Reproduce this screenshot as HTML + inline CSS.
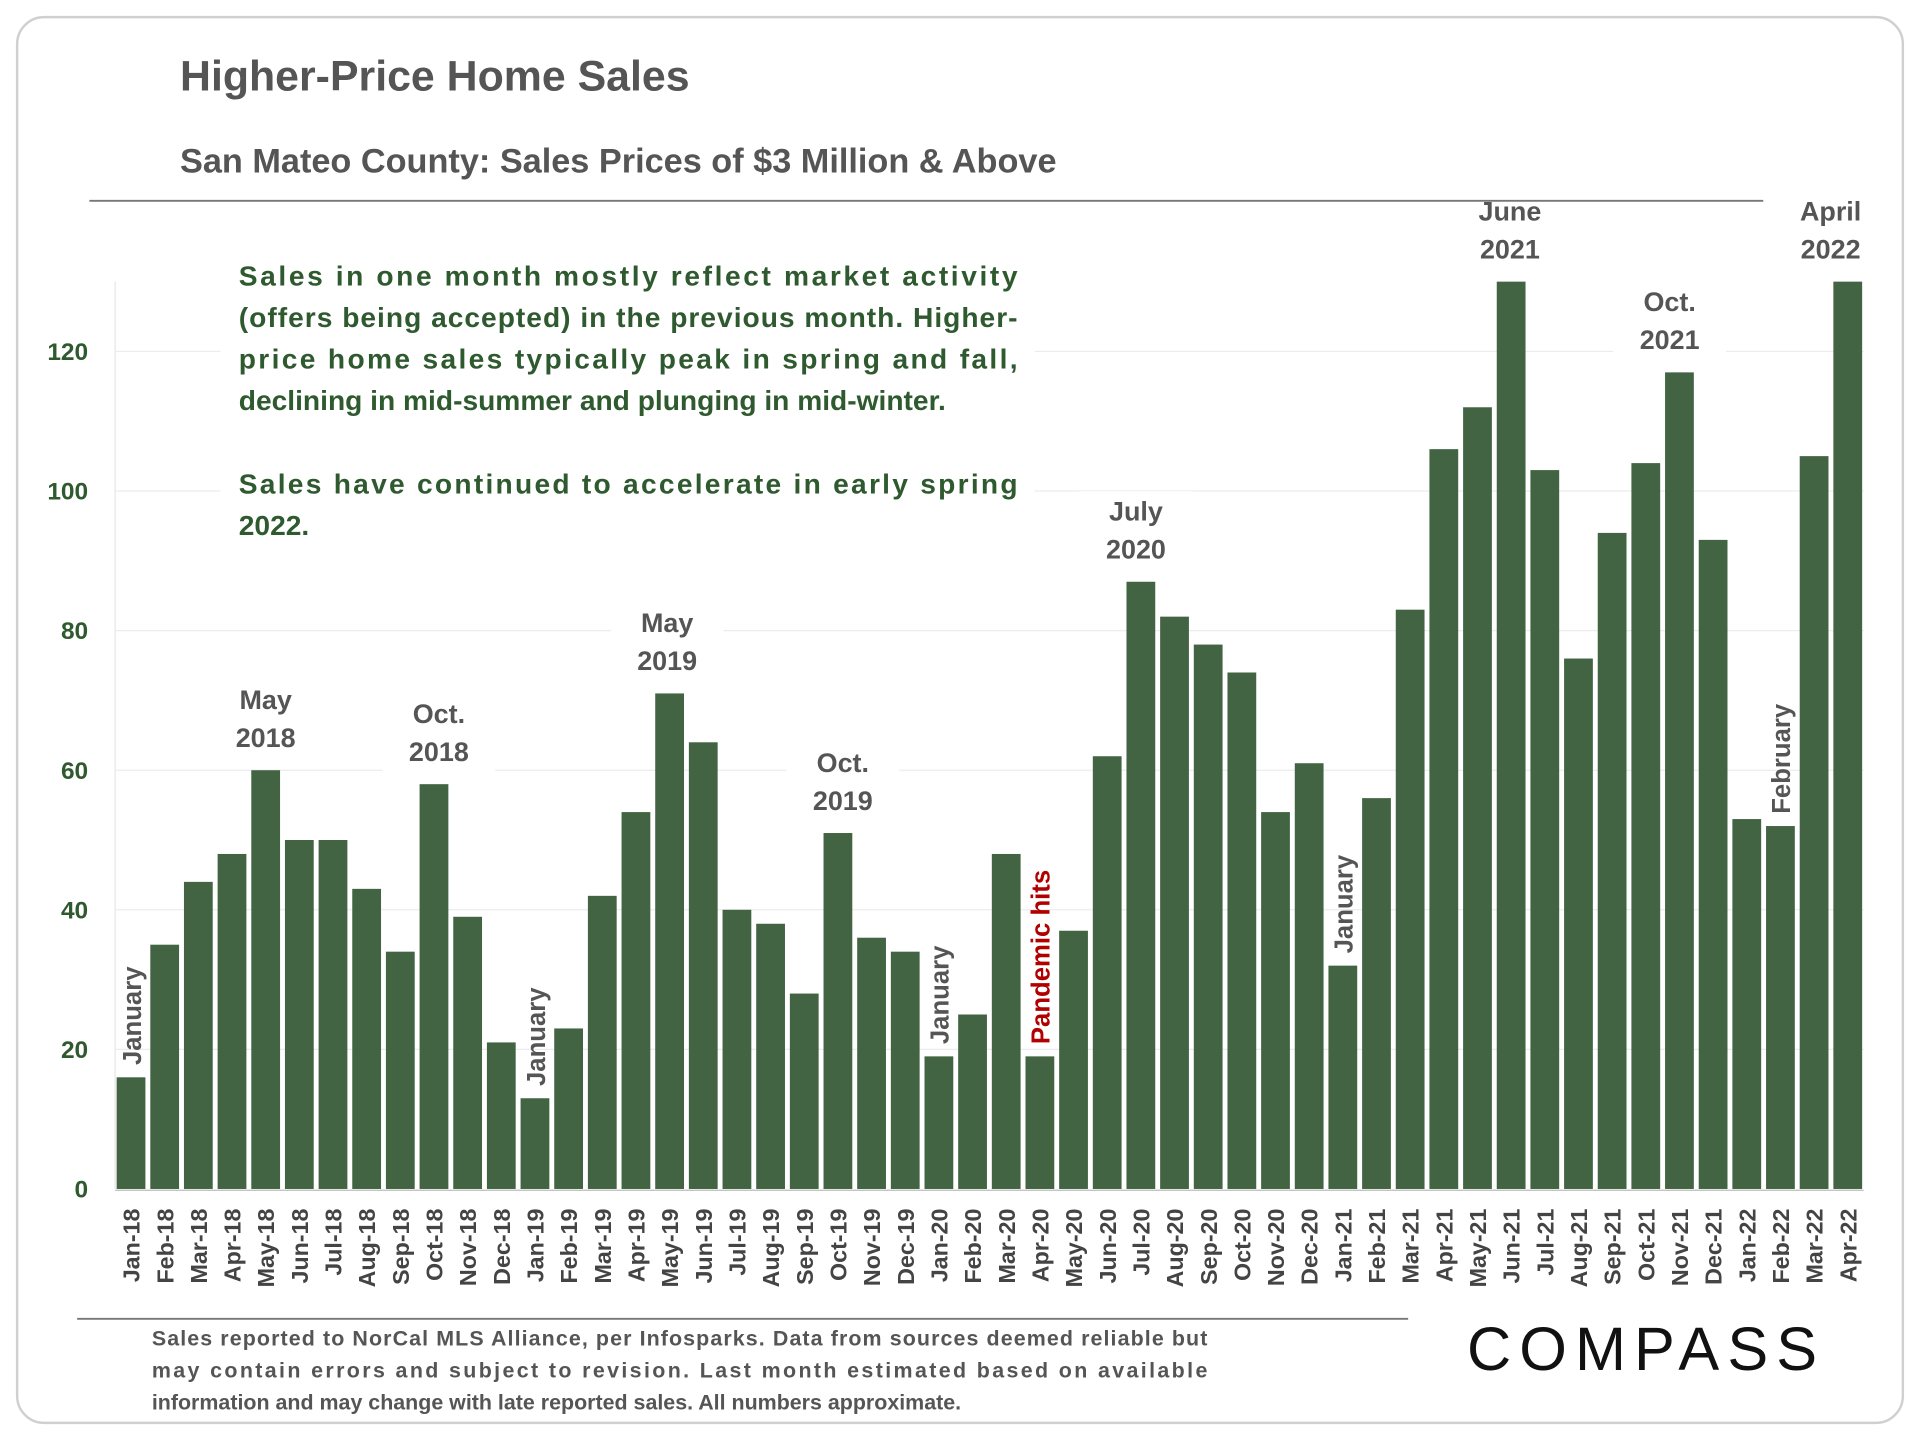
<!DOCTYPE html>
<html><head><meta charset="utf-8"><style>
html,body{margin:0;padding:0;background:#fff}
svg{display:block}
text{font-family:"Liberation Sans",sans-serif}
</style></head><body>
<svg id="chart" width="1920" height="1440" viewBox="0 0 1568 1176" xmlns="http://www.w3.org/2000/svg">
<rect x="14" y="14" width="1540" height="1148" rx="22" fill="#fff" stroke="#d0d0d0" stroke-width="2"/>
<text x="147" y="74" font-size="35" font-weight="bold" fill="#555">Higher-Price Home Sales</text>
<text x="147" y="141" font-size="28" font-weight="bold" fill="#555">San Mateo County: Sales Prices of $3 Million &amp; Above</text>
<g id="grid"></g>
<rect x="180" y="205" width="665" height="245" fill="#fff"/>
<g id="bars"></g>
<g id="xlabels"></g>
<g id="ylabels"></g>
<g font-size="23" font-weight="bold" fill="#2f5a2f">
<text x="195" y="233" textLength="636" lengthAdjust="spacing">Sales in one month mostly reflect market activity</text>
<text x="195" y="267" textLength="636" lengthAdjust="spacing">(offers being accepted) in the previous month. Higher-</text>
<text x="195" y="301" textLength="636" lengthAdjust="spacing">price home sales typically peak in spring and fall,</text>
<text x="195" y="335">declining in mid-summer and plunging in mid-winter.</text>
<text x="195" y="403" textLength="636" lengthAdjust="spacing">Sales have continued to accelerate in early spring</text>
<text x="195" y="437">2022.</text>
</g>
<g id="notes" font-size="22" font-weight="bold" fill="#555" text-anchor="middle"></g>
<line x1="73" y1="164" x2="1440" y2="164" stroke="#777" stroke-width="1.5"/>
<line x1="63" y1="1077" x2="1150" y2="1077" stroke="#777" stroke-width="1.5"/>
<g font-size="17.5" font-weight="bold" fill="#555">
<text x="124" y="1099" textLength="862" lengthAdjust="spacing">Sales reported to NorCal MLS Alliance, per Infosparks. Data from sources deemed reliable but</text>
<text x="124" y="1125" textLength="862" lengthAdjust="spacing">may contain errors and subject to revision. Last month estimated based on available</text>
<text x="124" y="1151">information and may change with late reported sales. All numbers approximate.</text>
</g>
<text x="1198" y="1119" font-size="50" fill="#111" textLength="286" lengthAdjust="spacing">COMPASS</text>
</svg>
<script>
const categories=["Jan-18","Feb-18","Mar-18","Apr-18","May-18","Jun-18","Jul-18","Aug-18","Sep-18","Oct-18","Nov-18","Dec-18","Jan-19","Feb-19","Mar-19","Apr-19","May-19","Jun-19","Jul-19","Aug-19","Sep-19","Oct-19","Nov-19","Dec-19","Jan-20","Feb-20","Mar-20","Apr-20","May-20","Jun-20","Jul-20","Aug-20","Sep-20","Oct-20","Nov-20","Dec-20","Jan-21","Feb-21","Mar-21","Apr-21","May-21","Jun-21","Jul-21","Aug-21","Sep-21","Oct-21","Nov-21","Dec-21","Jan-22","Feb-22","Mar-22","Apr-22"];
const sales=[16,35,44,48,60,50,50,43,34,58,39,21,13,23,42,54,71,64,40,38,28,51,36,34,19,25,48,19,37,62,87,82,78,74,54,61,32,56,83,106,112,130,103,76,94,104,117,93,53,52,105,130];
const yTicks=[0,20,40,60,80,100,120];
const NS="http://www.w3.org/2000/svg";
const X0=107,STEP=(1509-107)/51,BW=23.5,Y0=971,K=5.7;
const xs=i=>X0+i*STEP, ys=v=>Y0-v*K;
function mk(t,a,p){const e=document.createElementNS(NS,t);for(const k in a)e.setAttribute(k,a[k]);p.appendChild(e);return e;}
const grid=document.getElementById('grid'),bars=document.getElementById('bars'),xl=document.getElementById('xlabels'),yl=document.getElementById('ylabels'),notes=document.getElementById('notes');
mk('line',{x1:94,y1:230,x2:94,y2:Y0,stroke:'#e6e6e6'},grid);
yTicks.forEach(v=>{
 if(v>0){const g=mk('line',{x1:94,x2:1522,y1:ys(v),y2:ys(v),stroke:'#ececec','stroke-width':1},grid);
 
 }
 const t=mk('text',{x:72,y:ys(v)+7,'text-anchor':'end','font-size':20,'font-weight':'bold',fill:'#2f5a2f'},yl);
 t.textContent=v;
 
 
});
mk('line',{x1:94,x2:1522,y1:Y0+1,y2:Y0+1,stroke:'#bbb'},grid);
sales.forEach((v,i)=>{
 const r=mk('rect',{x:xs(i)-BW/2,y:ys(v),width:BW,height:v*K,fill:'#436443'},bars);
 
 
 const t=mk('text',{transform:`translate(${xs(i)+7},987) rotate(-90)`,'text-anchor':'end','font-size':19,'font-weight':'bold',fill:'#444'},xl);
 t.textContent=categories[i];
 
 
});
const noteIdx=[4,9,16,21,30,41,46,51];
const noteTxt=[["May","2018"],["Oct.","2018"],["May","2019"],["Oct.","2019"],["July","2020"],["June","2021"],["Oct.","2021"],["April","2022"]];
const noteDx=[0,4,-2,4,-4,-1,-8,-14];
noteIdx.forEach((idx,j)=>{
 const top=ys(sales[idx]);
 const cx=xs(idx)+noteDx[j];
 const ry=Math.max(top-74,166);
 mk('rect',{x:cx-46,y:ry,width:92,height:top-8-ry,fill:'#fff'},notes);
 noteTxt[j].forEach((s,k)=>{const t=mk('text',{x:cx,y:top-50+k*31},notes);t.textContent=s;
 
 });
});
const vIdx=[0,12,24,36,49,27];
const vTxt=["January","January","January","January","February","Pandemic hits"];
vIdx.forEach((idx,j)=>{
 const t=mk('text',{transform:`translate(${xs(idx)+8},${ys(sales[idx])-10}) rotate(-90)`,'font-size':21,'font-weight':'bold',fill:j==5?'#b00000':'#555','text-anchor':'start'},notes);
 t.textContent=vTxt[j];
 
 
});
</script>
</body></html>
